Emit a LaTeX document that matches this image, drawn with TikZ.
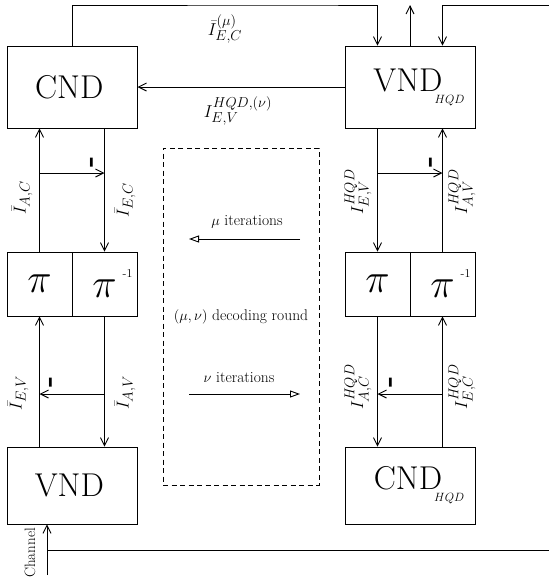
\documentclass[tikz,border=0pt]{standalone}
\usepackage{graphicx}
\usetikzlibrary{arrows.meta}
\newcommand\myBig{\fontsize{33}{40}\selectfont}
\newcommand\myLab{\fontsize{19}{22}\selectfont}
\newcommand\myIt{\fontsize{15.5}{18}\selectfont}
\newcommand\mySub{\fontsize{12.5}{15}\selectfont}
\newcommand\myPi{\fontsize{24.88}{30}\selectfont}
\newcommand\mySup{\fontsize{12}{14}\selectfont}
\newcommand\myTick{\fontsize{30}{34}\selectfont\bfseries}
\newcommand\myCh{\fontsize{15}{18}\selectfont}
\newcommand\bigpi{\scalebox{1.65}{$\pi$}}
\tikzset{
 ln/.style={line width=0.9pt},
 arr/.style={ln, -{Straight Barb[length=8pt,width=8pt,line width=0.9pt]}},
 tri/.style={ln, -{Triangle[open,length=10pt,width=7pt,line width=0.9pt]}},
 blk/.style={draw, line width=0.9pt, inner sep=0pt, font=\myBig},
 pibox/.style={blk, minimum width=65pt, minimum height=64pt, font=\myPi},
 lab/.style={font=\myLab, inner sep=0pt},
 rlab/.style={lab, rotate=90},
 tickmark/.style={font=\myTick, rotate=90, inner sep=0pt},
}
\begin{document}
\begin{tikzpicture}[x=1pt,y=-1pt]
\useasboundingbox (0,0) rectangle (549,587);
% blocks
\node[blk, minimum width=129.5pt, minimum height=82pt] (cnd) at (72.3,87) {CND\kern6pt};
\node[blk, minimum width=130pt, minimum height=82pt] (vndh) at (410,87) {\kern18pt VND\kern-8pt\raisebox{-12pt}{\mySub$HQD$}};
\node[pibox] (pla) at (39.5,284) {\bigpi};
\node[pibox] (plb) at (104.5,284) {\bigpi\rlap{\kern6pt\raisebox{20pt}{\mySup -1}}};
\node[pibox] (pra) at (377.5,284) {\bigpi};
\node[pibox] (prb) at (442.5,284) {\bigpi\rlap{\kern6pt\raisebox{20pt}{\mySup -1}}};
\node[blk, minimum width=129.5pt, minimum height=77pt] (vnd) at (72.3,485.5) {VND\kern6pt};
\node[blk, minimum width=130pt, minimum height=77pt] (cndh) at (410,485.5) {\kern18pt CND\kern-8pt\raisebox{-12pt}{\mySub$HQD$}};
\node[draw, dash pattern=on 5pt off 3.5pt, line width=0.9pt, minimum width=156pt, minimum height=337pt, inner sep=0pt, font=\myIt] (round) at (241,316.5) {$(\mu,\nu)$ decoding round};
% coordinates
\coordinate (top) at (300,5);
\coordinate (rin) at (549,5);
\coordinate (tapA) at (0,173);
\coordinate (tapB) at (0,394);
\coordinate (chs) at (47,575);
\coordinate (chr) at (549,550);
\coordinate (mua) at (300,239);
\coordinate (mub) at (189,239);
\coordinate (nua) at (189,394);
\coordinate (nub) at (300,394);
% top connections
\draw[arr] (cnd.north) |- (top) -| (vndh.north -| pra.north);
\draw[arr] (vndh.north) -- (vndh.north |- top);
\draw[arr] (rin) -| (vndh.north -| prb.north);
\draw[arr] (vndh.west) -- (cnd.east);
% left column
\draw[arr] (pla.north) -- (pla.north |- cnd.south);
\draw[arr] (plb.north |- cnd.south) -- (plb.north);
\draw[arr] (pla.north |- tapA) -- (plb.north |- tapA);
\draw[arr] (pla.south |- vnd.north) -- (pla.south);
\draw[arr] (plb.south) -- (plb.south |- vnd.north);
\draw[arr] (plb.south |- tapB) -- (pla.south |- tapB);
% right column
\draw[arr] (pra.north |- vndh.south) -- (pra.north);
\draw[arr] (prb.north) -- (prb.north |- vndh.south);
\draw[arr] (pra.north |- tapA) -- (prb.north |- tapA);
\draw[arr] (pra.south) -- (pra.south |- cndh.north);
\draw[arr] (prb.south |- cndh.north) -- (prb.south);
\draw[arr] (prb.south |- tapB) -- (pra.south |- tapB);
% channel
\draw[arr] (chs) -- (chs |- vnd.south);
\draw[ln] (chs |- chr) -- (chr);
% iterations
\draw[tri] (mua) -- (mub);
\draw[tri] (nua) -- (nub);
% labels
\node[lab] (lmu) at (225,29) {$\bar I^{(\mu)}_{E,C}$};
\node[lab] (lnu) at (238,111) {$I^{HQD,(\nu)}_{E,V}$};
\node[rlab] (l1) at (22,198) {$\bar I_{A,C}$};
\node[rlab] (l2) at (125,200) {$\bar I_{E,C}$};
\node[rlab] (l3) at (358,192) {$I^{HQD}_{E,V}$};
\node[rlab] (l4) at (462,192) {$I^{HQD}_{A,V}$};
\node[rlab] (l5) at (18,393) {$\bar I_{E,V}$};
\node[rlab] (l6) at (125,393) {$\bar I_{A,V}$};
\node[rlab] (l7) at (358,387) {$I^{HQD}_{A,C}$};
\node[rlab] (l8) at (462,387) {$I^{HQD}_{E,C}$};
\node[tickmark] (m1) at (94,162) {-};
\node[tickmark] (m2) at (433,162) {-};
\node[tickmark] (m3) at (53,382) {-};
\node[tickmark] (m4) at (393,382) {-};
\node[font=\myIt] (tmu) at (247,222) {$\mu$ iterations};
\node[font=\myIt] (tnu) at (239,378) {$\nu$ iterations};
\node[font=\myCh, rotate=90, inner sep=0pt] (ch) at (30,553) {Channel};
\end{tikzpicture}
\end{document}
